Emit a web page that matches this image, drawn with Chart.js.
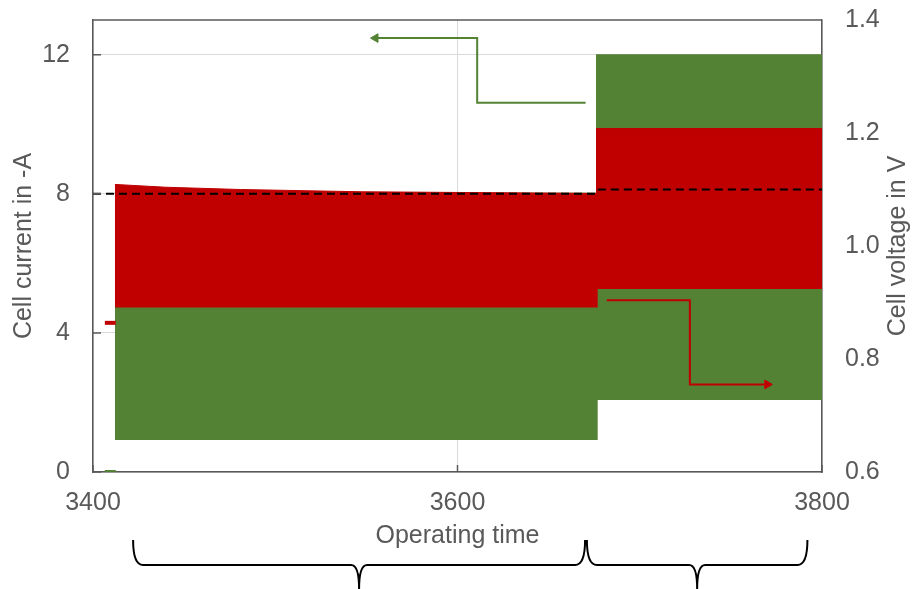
<!DOCTYPE html>
<html>
<head>
<meta charset="utf-8">
<script src="https://cdn.jsdelivr.net/npm/chart.js@4.4.1/dist/chart.umd.min.js"></script>
<style>
  html, body { margin: 0; padding: 0; background: #fff; }
  #wrap { width: 913px; height: 589px; position: relative; }
</style>
</head>
<body>
<div id="wrap"><canvas id="chart"></canvas></div>
<script>
const timeTicks = [3400, 3600, 3800];
const currentTicks = [0, 4, 8, 12];
const voltageTicks = [0.6, 0.8, 1.0, 1.2, 1.4];

// phase 1 (constant current level)
const band1Time = [3412, 3677];
const band1CurrentHigh = [8.02, 8.02];
const band1CurrentLow = 0.92;
const band1VoltTime = [3412, 3440, 3481, 3547, 3677];
const band1VoltHigh = [1.109, 1.104, 1.100, 1.096, 1.093];
const band1VoltLow = 0.891;

// phase 2 (higher current level)
const band2Time = [3676, 3800];
const band2CurrentHigh = [12.0, 12.0];
const band2CurrentLow = 2.07;
const band2VoltHigh = [1.208, 1.208];
const band2VoltLow = 0.924;

// short rest before the load starts
const restTime = [3406.5, 3412.5];
const restCurrent = [0, 0];
const restVoltage = [0.864, 0.864];

// dashed reference lines
const refTime1 = [3400, 3677];
const refCurrent = [8, 8];
const refTime2 = [3677, 3800];
const refVoltage = [1.1, 1.1];

// axis hint arrows
const arrowCurTime = [3670.3, 3610.8, 3610.8, 3555];
const arrowCurVal = [10.62, 10.62, 12.48, 12.48];
const arrowVoltTime = [3681.9, 3727.5, 3727.5, 3770];
const arrowVoltVal = [0.904, 0.904, 0.755, 0.755];

// braces under the x axis
const phaseSpans = [[3422, 3670], [3671, 3792]];

const GREEN = "#548235";
const RED = "#c00000";
const GREY = "#595959";
const FONT = { family: "'Liberation Sans', Arial, sans-serif", size: 25 };

const pts = (xs, ys) => xs.map((x, i) => ({ x: x, y: ys[i] }));

function band(xs, ys, low, color, axis, order) {
  return {
    data: pts(xs, ys), yAxisID: axis, order: order,
    borderColor: color, backgroundColor: color, borderWidth: 1,
    pointRadius: 0, tension: 0, fill: { value: low },
  };
}

function arrow(xs, ys, color, axis, rot) {
  return {
    data: pts(xs, ys), yAxisID: axis, order: 0,
    borderColor: color, backgroundColor: color, borderWidth: 2,
    pointStyle: "triangle", pointRadius: [0, 0, 0, 5], pointRotation: [0, 0, 0, rot],
    pointBorderWidth: 1, pointBackgroundColor: color, fill: false, tension: 0,
  };
}

function dashed(xs, ys, axis) {
  return {
    data: pts(xs, ys), yAxisID: axis, order: 1,
    borderColor: "#000", borderWidth: 2, borderDash: [8, 5],
    pointRadius: 0, fill: false,
  };
}

// fixed box sizes so the plot area lands where the original one is
function fitVertical(w) {
  return s => { s.width = w; s.paddingTop = 0; s.paddingBottom = 0; };
}

const extras = {
  id: "extras",
  afterDatasetsDraw(chart) {
    const { ctx, chartArea: a, scales } = chart;
    ctx.save();
    ctx.strokeStyle = GREY;
    ctx.lineWidth = 1.5;
    ctx.beginPath();
    ctx.moveTo(a.left, a.top);
    ctx.lineTo(a.right, a.top);
    currentTicks.forEach(v => {
      const y = scales.y.getPixelForValue(v);
      ctx.moveTo(a.left, y);
      ctx.lineTo(a.left + 8, y);
    });
    timeTicks.forEach(v => {
      const x = scales.x.getPixelForValue(v);
      ctx.moveTo(x, a.bottom);
      ctx.lineTo(x, a.bottom - 7);
    });
    ctx.stroke();
    ctx.restore();
  },
  afterDraw(chart) {
    const { ctx, chartArea: a, scales } = chart;
    ctx.save();
    // braces
    ctx.strokeStyle = "#000";
    ctx.lineWidth = 2;
    const yTop = 540, yMid = 565, yTip = 589;
    phaseSpans.forEach(([t1, t2]) => {
      const x1 = scales.x.getPixelForValue(t1);
      const x2 = scales.x.getPixelForValue(t2);
      const xc = (x1 + x2) / 2;
      ctx.beginPath();
      ctx.moveTo(x1, yTop);
      ctx.quadraticCurveTo(x1, yMid, x1 + 10, yMid);
      ctx.lineTo(xc - 8, yMid);
      ctx.quadraticCurveTo(xc, yMid, xc, yTip);
      ctx.moveTo(xc, yTip);
      ctx.quadraticCurveTo(xc, yMid, xc + 8, yMid);
      ctx.lineTo(x2 - 10, yMid);
      ctx.quadraticCurveTo(x2, yMid, x2, yTop);
      ctx.stroke();
    });
    // right axis title, read bottom to top
    ctx.fillStyle = GREY;
    ctx.font = FONT.size + "px " + FONT.family;
    ctx.textAlign = "center";
    ctx.textBaseline = "middle";
    ctx.translate(898, (a.top + a.bottom) / 2);
    ctx.rotate(-Math.PI / 2);
    ctx.fillText("Cell voltage in V", 0, 0);
    ctx.restore();
  }
};

new Chart(document.getElementById("chart"), {
  type: "line",
  data: {
    datasets: [
      arrow(arrowCurTime, arrowCurVal, GREEN, "y", -90),
      arrow(arrowVoltTime, arrowVoltVal, RED, "y2", 90),
      dashed(refTime1, refCurrent, "y"),
      dashed(refTime2, refVoltage, "y2"),
      band(band1VoltTime, band1VoltHigh, band1VoltLow, RED, "y2", 2),
      band(band2Time, band2VoltHigh, band2VoltLow, RED, "y2", 2),
      { data: pts(restTime, restVoltage), yAxisID: "y2", order: 2, borderColor: RED, borderWidth: 4, pointRadius: 0 },
      band(band1Time, band1CurrentHigh, band1CurrentLow, GREEN, "y", 3),
      band(band2Time, band2CurrentHigh, band2CurrentLow, GREEN, "y", 3),
      { data: pts(restTime, restCurrent), yAxisID: "y", order: 3, borderColor: GREEN, borderWidth: 4, pointRadius: 0 },
    ],
  },
  options: {
    responsive: true,
    maintainAspectRatio: false,
    animation: false,
    layout: { padding: { top: 20, left: 0, right: 0, bottom: 0 } },
    plugins: { legend: { display: false }, tooltip: { enabled: false } },
    scales: {
      x: {
        type: "linear", min: 3400, max: 3800,
        afterBuildTicks: s => { s.ticks = timeTicks.map(v => ({ value: v })); },
        afterFit: s => { s.height = 117; s.paddingLeft = 0; s.paddingRight = 0; },
        ticks: { color: GREY, font: FONT, padding: 16, maxRotation: 0, callback: v => String(v) },
        grid: { color: "#d9d9d9", drawTicks: false },
        border: { color: GREY, width: 1.5 },
        title: { display: true, text: "Operating time", color: GREY, font: FONT, padding: { top: 0, bottom: 38 } },
      },
      y: {
        position: "left", min: 0, max: 13,
        afterBuildTicks: s => { s.ticks = currentTicks.map(v => ({ value: v })); },
        afterFit: fitVertical(93),
        ticks: { color: GREY, font: FONT, padding: 23 },
        grid: { color: "#d9d9d9", drawTicks: false },
        border: { color: GREY, width: 1.5 },
        title: { display: true, text: "Cell current in -A", color: GREY, font: FONT, padding: { top: 9, bottom: 0 } },
      },
      y2: {
        position: "right", min: 0.6, max: 1.4,
        afterBuildTicks: s => { s.ticks = voltageTicks.map(v => ({ value: v })); },
        afterFit: fitVertical(91),
        ticks: { color: GREY, font: FONT, padding: 23, callback: v => v.toFixed(1) },
        grid: { display: false, drawTicks: false },
        border: { color: GREY, width: 1.5 },
      },
    },
  },
  plugins: [extras],
});
</script>
</body>
</html>
